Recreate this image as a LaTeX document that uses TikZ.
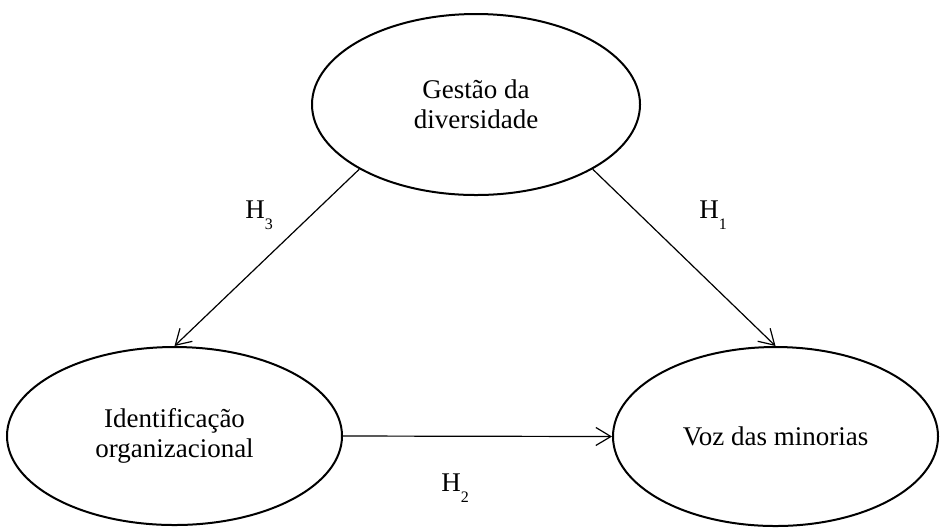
\documentclass[tikz,border=0pt]{standalone}
\usepackage{fontspec}
\setmainfont{Liberation Serif}
\usetikzlibrary{shapes.geometric,arrows.meta}

\newcommand{\hyp}[1]{H\raisebox{-5.5pt}{\fontsize{8}{8}\selectfont #1}}

\begin{document}
\begin{tikzpicture}[x=0.5pt,y=-0.5pt,
		construct/.style={draw, ellipse, line width=1pt, inner sep=0pt, align=center,
			font=\fontsize{13.5}{15}\selectfont},
		path/.style={line width=0.6pt, -{Straight Barb[length=7.5pt,width=9pt]}},
		hlabel/.style={anchor=base west, inner sep=0pt, font=\fontsize{13.5}{15}\selectfont}]

		\useasboundingbox (0, 0) rectangle (940, 527);

		% constructs
		\node[construct, minimum width=164pt, minimum height=90.5pt] (gestao) at (476, 104.5) {Gestão da\\diversidade};
		\node[construct, minimum width=167.5pt, minimum height=89pt] (ident) at (174.5, 436) {Identificação\\organizacional};
		\node[construct, minimum width=162.5pt, minimum height=89.5pt] (voz) at (775.5, 436.5) {Voz das minorias};

		% hypotheses
		\draw[path] (gestao.209) -- (ident.north);
		\draw[path] (gestao.331) -- (voz.north);
		\draw[path] (ident.east) -- (voz.west);

		\node[hlabel] (h3) at (245, 218) {\hyp{3}};
		\node[hlabel] (h1) at (699, 218) {\hyp{1}};
		\node[hlabel] (h2) at (441, 491) {\hyp{2}};

	\end{tikzpicture}
\end{document}
